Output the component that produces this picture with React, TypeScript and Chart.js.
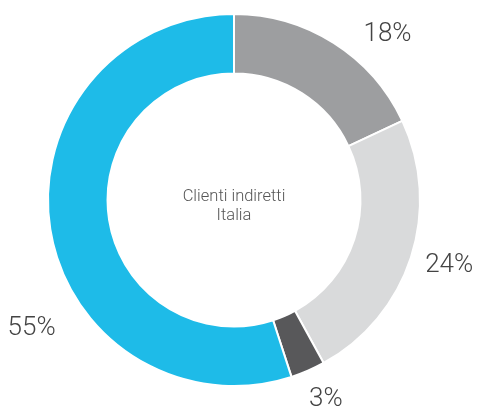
import React, { useEffect, useRef } from "react";
import { Chart, registerables } from "chart.js";

Chart.register(...registerables);

const categories = ["A", "B", "C", "Clienti indiretti Italia"];
const values = [18, 24, 3, 55];
const valueLabels = ["18%", "24%", "3%", "55%"];
const colors = ["#9d9ea0", "#d9dadb", "#58585a", "#1ebbe8"];
const centerLines = ["Clienti indiretti", "Italia"];

const labelPlugin = {
  id: "outerLabels",
  afterDatasetsDraw(chart: any, _args: any, opts: any) {
    const ctx = chart.ctx;
    const meta = chart.getDatasetMeta(0);
    ctx.save();
    ctx.fillStyle = "#444";
    ctx.font = "300 26px Roboto";
    ctx.textAlign = "center";
    ctx.textBaseline = "middle";
    meta.data.forEach((arc: any, i: number) => {
      const p = arc.getProps(["x", "y", "startAngle", "endAngle", "outerRadius"], true);
      const mid = (p.startAngle + p.endAngle) / 2 + (opts.angleAdjust[i] * Math.PI) / 180;
      const r = p.outerRadius + opts.radiusAdd[i];
      ctx.fillText(valueLabels[i], p.x + Math.cos(mid) * r, p.y + Math.sin(mid) * r);
    });
    const c = meta.data[0];
    ctx.fillStyle = "#555";
    ctx.font = "300 16.5px Roboto";
    ctx.fillText(centerLines[0], c.x, c.y - 3);
    ctx.fillText(centerLines[1], c.x, c.y + 16);
    ctx.restore();
  },
};

export default function App() {
  const ref = useRef<HTMLCanvasElement>(null);
  useEffect(() => {
    document.body.style.margin = "0";
    const chart = new Chart(ref.current!, {
      type: "doughnut",
      data: {
        labels: categories,
        datasets: [
          {
            data: values,
            backgroundColor: colors,
            borderColor: "#ffffff",
            borderWidth: 2,
            hoverOffset: 0,
          },
        ],
      },
      options: {
        responsive: false,
        animation: false,
        cutout: "68%",
        layout: { padding: { top: 13, bottom: 23, left: 47, right: 56 } },
        plugins: {
          legend: { display: false },
          tooltip: { enabled: false },
          outerLabels: {
            angleAdjust: [10.4, -1, -1.3, -23.5],
            radiusAdd: [40, 39, 34, 54],
          },
        } as any,
      },
      plugins: [labelPlugin],
    });
    return () => chart.destroy();
  }, []);
  return (
    <div style={{ width: 477, height: 410, background: "#fff" }}>
      <canvas ref={ref} width={477} height={410} />
    </div>
  );
}
